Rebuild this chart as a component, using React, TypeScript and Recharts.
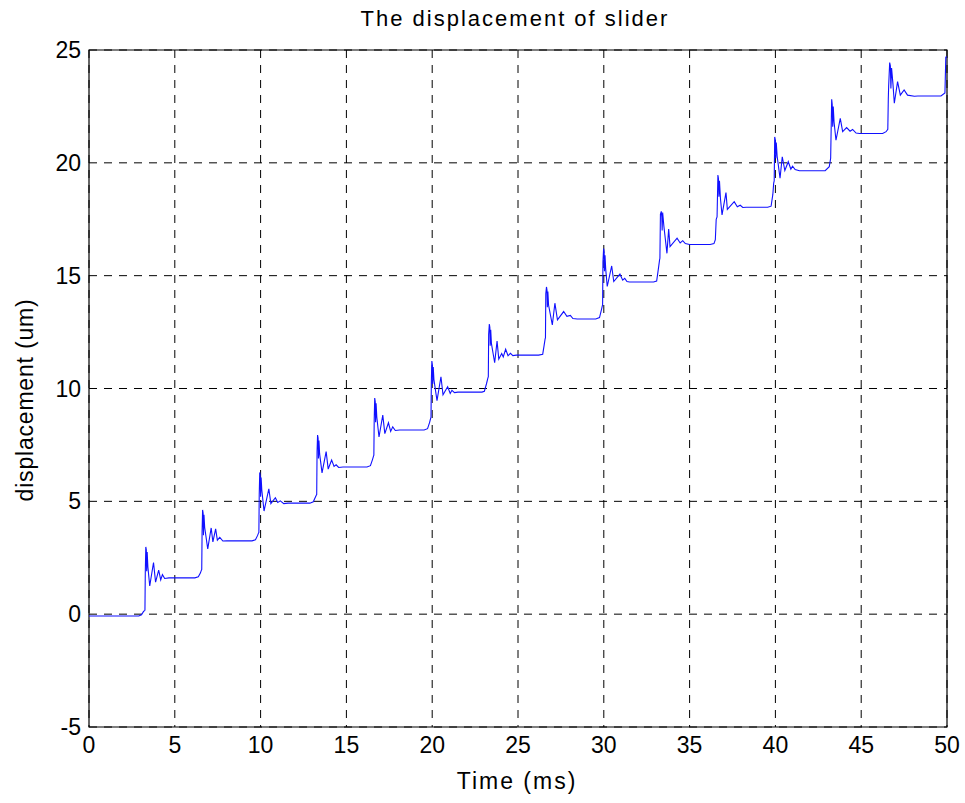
import { LineChart, Line, XAxis, YAxis, CartesianGrid, ReferenceArea } from "recharts";

// slider position (um) against time (ms), one array per step of the drive
const step01: [number, number][] = [
  [0, -0.08], [2.9, -0.08], [3.06, -0.03], [3.18, 0.12], [3.24, 0.16], [3.26, 0.18],
  [3.28, 1.85], [3.31, 2.98], [3.34, 2.85], [3.36, 1.9], [3.39, 2.75], [3.43, 2.1],
  [3.54, 1.25], [3.76, 2.29], [3.88, 1.42], [4.06, 1.95], [4.18, 1.52], [4.28, 1.75],
  [4.41, 1.58], [4.66, 1.61],
];
const step02: [number, number][] = [
  [6.17, 1.61], [6.37, 1.66], [6.49, 1.82], [6.55, 1.95], [6.57, 1.98], [6.59, 3.65],
  [6.62, 4.62], [6.65, 4.48], [6.67, 3.5], [6.7, 4.4], [6.74, 3.85], [6.92, 2.89],
  [7.12, 3.82], [7.22, 3.2], [7.38, 3.78], [7.48, 3.28], [7.62, 3.4], [7.8, 3.24],
  [8.04, 3.25],
];
const step03: [number, number][] = [
  [9.5, 3.25], [9.7, 3.3], [9.82, 3.48], [9.88, 3.6], [9.9, 3.62], [9.92, 5.3],
  [9.95, 6.28], [9.98, 6.12], [10.0, 5.2], [10.03, 6.05], [10.07, 5.5], [10.2, 4.57],
  [10.48, 5.55], [10.6, 4.9], [10.86, 5.16], [11.0, 4.95], [11.15, 5.02], [11.35, 4.9],
  [11.6, 4.92],
];
const step04: [number, number][] = [
  [12.87, 4.92], [13.07, 4.98], [13.19, 5.18], [13.25, 5.28], [13.27, 5.3], [13.29, 7.2],
  [13.32, 7.94], [13.35, 7.8], [13.37, 6.9], [13.4, 7.7], [13.44, 7.1], [13.58, 6.26],
  [13.82, 7.2], [13.94, 6.43], [14.14, 6.83], [14.28, 6.55], [14.4, 6.62], [14.55, 6.5],
  [14.8, 6.52],
];
const step05: [number, number][] = [
  [16.2, 6.52], [16.4, 6.58], [16.52, 6.85], [16.58, 7.0], [16.6, 7.05], [16.62, 8.6],
  [16.65, 9.58], [16.68, 9.42], [16.7, 8.5], [16.73, 9.35], [16.77, 8.75], [16.9, 7.85],
  [17.12, 8.82], [17.24, 8.0], [17.45, 8.48], [17.58, 8.1], [17.7, 8.3], [17.85, 8.14],
  [18.1, 8.16],
];
const step06: [number, number][] = [
  [19.53, 8.16], [19.73, 8.22], [19.85, 8.5], [19.91, 8.68], [19.93, 8.72], [19.95, 10.3],
  [19.98, 11.22], [20.01, 11.05], [20.03, 10.2], [20.06, 10.95], [20.1, 10.4], [20.28, 9.46],
  [20.51, 10.52], [20.63, 9.72], [20.9, 10.08], [21.05, 9.78], [21.15, 9.92], [21.3, 9.82],
  [21.5, 9.84],
];
const step07: [number, number][] = [
  [22.9, 9.84], [23.04, 9.88], [23.16, 10.2], [23.24, 10.45], [23.27, 10.52], [23.29, 12.4],
  [23.33, 12.86], [23.36, 12.7], [23.38, 11.9], [23.41, 12.6], [23.45, 12.0], [23.64, 11.14],
  [23.78, 12.1], [23.88, 11.3], [24.05, 11.55], [24.14, 11.4], [24.28, 11.74], [24.42, 11.45],
  [24.56, 11.56], [24.7, 11.46], [24.9, 11.48],
];
const step08: [number, number][] = [
  [26.2, 11.48], [26.44, 11.52], [26.52, 11.9], [26.58, 12.2], [26.6, 12.24], [26.62, 14.2],
  [26.66, 14.5], [26.69, 14.35], [26.71, 13.6], [26.74, 14.3], [26.78, 13.7], [27.0, 12.82],
  [27.15, 13.78], [27.3, 13.04], [27.66, 13.41], [27.85, 13.2], [28.05, 13.24], [28.2, 13.1],
  [28.45, 13.08],
];
const step09: [number, number][] = [
  [29.53, 13.08], [29.75, 13.14], [29.85, 13.45], [29.91, 13.65], [29.93, 13.7], [29.95, 15.6],
  [29.99, 16.2], [30.02, 16.05], [30.04, 15.2], [30.07, 15.9], [30.11, 15.3], [30.2, 14.52],
  [30.46, 15.43], [30.58, 14.74], [30.94, 15.07], [31.1, 14.8], [31.22, 14.88], [31.35, 14.74],
  [31.5, 14.72],
];
const step10: [number, number][] = [
  [32.9, 14.72], [33.08, 14.76], [33.18, 15.3], [33.25, 15.7], [33.27, 15.77], [33.3, 17.72],
  [33.35, 17.85], [33.38, 17.6], [33.4, 17.0], [33.43, 17.8], [33.5, 17.2], [33.68, 15.99],
  [33.78, 17.07], [33.86, 16.29], [34.27, 16.66], [34.45, 16.45], [34.6, 16.55], [34.75, 16.42],
  [35.0, 16.38],
];
const step11: [number, number][] = [
  [36.2, 16.38], [36.42, 16.42], [36.5, 16.6], [36.55, 17.5], [36.6, 17.6], [36.65, 19.46],
  [36.68, 19.3], [36.71, 18.5], [36.74, 19.2], [36.8, 18.4], [36.89, 17.69], [37.12, 18.68],
  [37.2, 17.94], [37.6, 18.28], [37.78, 18.05], [37.95, 18.12], [38.1, 18.02], [38.3, 18.03],
];
const step12: [number, number][] = [
  [39.55, 18.03], [39.75, 18.08], [39.85, 18.6], [39.9, 19.1], [39.93, 19.2], [39.96, 21.15],
  [40.0, 21.0], [40.02, 20.2], [40.05, 20.9], [40.1, 20.3], [40.27, 19.32], [40.4, 20.27],
  [40.55, 19.66], [40.75, 20.05], [40.9, 19.72], [41.0, 19.85], [41.15, 19.7], [41.4, 19.65],
];
const step13: [number, number][] = [
  [42.9, 19.65], [43.14, 19.83], [43.22, 20.2], [43.24, 21.09], [43.28, 22.82], [43.31, 22.6],
  [43.34, 21.6], [43.37, 22.5], [43.42, 21.8], [43.53, 21.0], [43.78, 21.97], [43.92, 21.38],
  [44.15, 21.56], [44.35, 21.4], [44.5, 21.48], [44.7, 21.32], [44.9, 21.3],
];
const step14: [number, number][] = [
  [46.25, 21.3], [46.45, 21.38], [46.55, 21.49], [46.58, 22.86], [46.6, 23.4], [46.66, 24.44],
  [46.7, 24.3], [46.73, 23.3], [46.77, 24.2], [46.85, 23.5], [46.93, 22.64], [47.12, 23.6],
  [47.28, 23.0], [47.5, 23.23], [47.7, 23.0], [48.1, 22.95], [48.3, 22.96], [49.65, 22.96],
  [49.88, 23.1], [49.93, 24.68], [50.0, 24.7],
];

const timeTicks = [0, 5, 10, 15, 20, 25, 30, 35, 40, 45, 50];
const dispTicks = [-5, 0, 5, 10, 15, 20, 25];

const steps = [step01, step02, step03, step04, step05, step06, step07, step08, step09, step10, step11, step12, step13, step14];
const data = steps.flat().map(([t, v]) => ({ t, v }));

const FONT = "'Liberation Sans Narrow', 'Liberation Sans', Arial, sans-serif";
const tickStyle = { fontFamily: FONT, fontSize: 23, fill: "#000" };

export default function App() {
  return (
    <div style={{ position: "absolute", left: 0, top: 0, width: 965, height: 803, background: "#fff" }}>
      <LineChart
        width={965}
        height={803}
        data={data}
        margin={{ top: 50, right: 18, bottom: 46, left: 29 }}
      >
        <CartesianGrid stroke="#000" strokeDasharray="8 7" />
        <XAxis
          dataKey="t"
          type="number"
          domain={[0, 50]}
          ticks={timeTicks}
          tickLine={false}
          axisLine={false}
          tick={tickStyle}
          tickMargin={4}
          height={30}
        />
        <YAxis
          type="number"
          domain={[-5, 25]}
          ticks={dispTicks}
          tickLine={false}
          axisLine={false}
          tick={tickStyle}
          width={60}
          tickMargin={2}
        />
        <ReferenceArea x1={0} x2={50} y1={-5} y2={25} fill="none" stroke="#000" strokeWidth={1.2} />
        <Line
          type="linear"
          dataKey="v"
          stroke="#1010ff"
          strokeWidth={1.1}
          dot={false}
          isAnimationActive={false}
        />
      </LineChart>
      <div
        style={{
          position: "absolute", left: 0, top: 6, width: 1030, textAlign: "center",
          fontFamily: FONT, fontSize: 22, letterSpacing: 2, color: "#000",
        }}
      >
        The displacement of slider
      </div>
      <div
        style={{
          position: "absolute", left: 0, top: 768, width: 1034, textAlign: "center",
          fontFamily: FONT, fontSize: 23, letterSpacing: 2, color: "#000",
        }}
      >
        Time (ms)
      </div>
      <div
        style={{
          position: "absolute", left: 25, top: 400, transform: "translate(-50%, -50%) rotate(-90deg)",
          whiteSpace: "nowrap", fontFamily: FONT, fontSize: 23, letterSpacing: 0.8, color: "#000",
        }}
      >
        displacement (um)
      </div>
    </div>
  );
}
